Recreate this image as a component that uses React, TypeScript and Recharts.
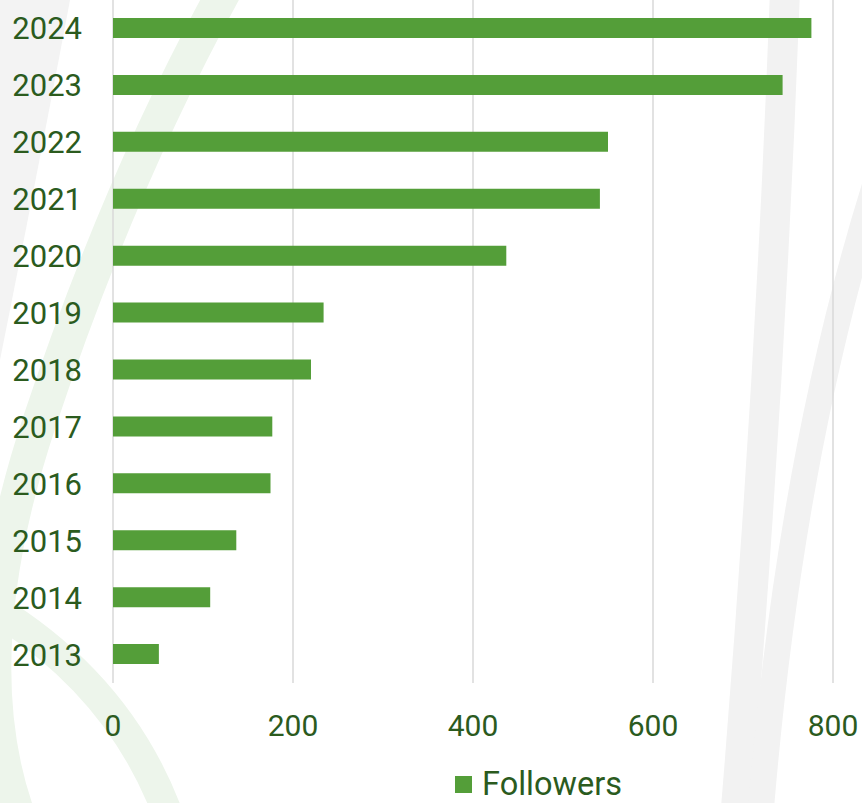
import React from 'react';
import { Bar, BarChart, CartesianGrid, Legend, XAxis, YAxis } from 'recharts';

const years = ['2013', '2014', '2015', '2016', '2017', '2018', '2019', '2020', '2021', '2022', '2023', '2024'];
const followers = [51, 108, 137, 175, 177, 220, 234, 437, 541, 550, 744, 776];
const xTicks = [0, 200, 400, 600, 800];

const data = years.map((year, i) => ({ year, Followers: followers[i] }));

const BAR = '#549E39';
const TEXT = '#2B5B1E';
const FONT = 'Roboto, "Liberation Sans", Arial, sans-serif';

// faint decorative shapes behind the chart
const Backdrop = () => (
    <svg width={862} height={803} style={{ position: 'absolute', left: 0, top: 0 }}>
        <path d="M0,0 L70,0 Q40,160 0,360 Z" fill="#f3f3f3" />
        <path d="M225,-10 Q120,180 40,420 T20,820" stroke="#edf5eb" strokeWidth={34} fill="none" />
        <path d="M-20,600 Q120,680 170,820" stroke="#edf5eb" strokeWidth={30} fill="none" />
        <path d="M785,-10 Q770,400 735,820" stroke="#f2f2f2" strokeWidth={30} fill="none" />
        <path d="M880,170 Q790,450 760,820" stroke="#f2f2f2" strokeWidth={26} fill="none" />
    </svg>
);

const LegendContent = () => (
    <div style={{ display: 'flex', alignItems: 'center', paddingTop: 6, lineHeight: '30px', fontFamily: FONT, fontSize: 32.5, color: TEXT }}>
        <span style={{ display: 'inline-block', width: 17, height: 17, background: BAR, marginRight: 10 }} />
        <span>Followers</span>
    </div>
);

export default function App() {
    return (
        <div style={{ position: 'absolute', left: 0, top: 0, width: 862, height: 803, background: '#fff', overflow: 'hidden' }}>
            <Backdrop />
            <div style={{ position: 'absolute', left: 0, top: 0 }}>
                <BarChart
                    width={862}
                    height={803}
                    data={data}
                    layout="vertical"
                    margin={{ top: 0, right: 29, bottom: 0, left: 0 }}
                    barSize={20}
                >
                    <CartesianGrid horizontal={false} stroke="#d9d9d9" strokeWidth={1.5} />
                    <XAxis
                        type="number"
                        domain={[0, 800]}
                        ticks={xTicks}
                        axisLine={false}
                        tickLine={false}
                        tickSize={0}
                        tickMargin={32}
                        height={80}
                        interval={0}
                        tick={{ fill: TEXT, fontSize: 30, fontFamily: FONT }}
                    />
                    <YAxis
                        type="category"
                        dataKey="year"
                        reversed
                        width={113}
                        axisLine={false}
                        tickLine={false}
                        tickSize={0}
                        tickMargin={31}
                        interval={0}
                        tick={{ fill: TEXT, fontSize: 31, fontFamily: FONT }}
                    />
                    <Legend
                        verticalAlign="bottom"
                        content={<LegendContent />}
                        wrapperStyle={{ left: 455, bottom: 0, width: 220, height: 40 }}
                    />
                    <Bar dataKey="Followers" fill={BAR} isAnimationActive={false} />
                </BarChart>
            </div>
        </div>
    );
}
